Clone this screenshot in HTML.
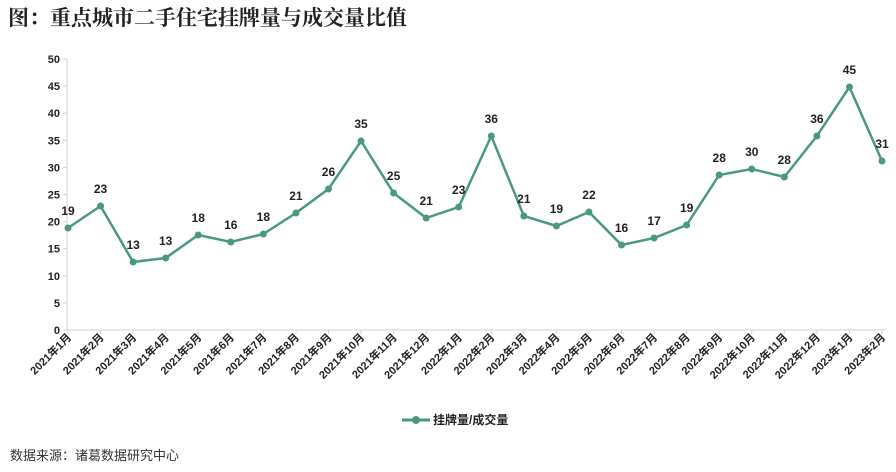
<!DOCTYPE html>
<html><head><meta charset="utf-8"><style>
body{margin:0;background:#fff;width:896px;height:467px;overflow:hidden;font-family:"Liberation Serif","Noto Serif CJK SC",serif}
</style></head><body>
<svg width="896" height="467" xmlns="http://www.w3.org/2000/svg">
<rect width="896" height="467" fill="#fff"/>
<text x="8" y="25" font-size="21" font-weight="bold" fill="#222" font-family="Liberation Serif,Noto Serif CJK SC,serif">图：重点城市二手住宅挂牌量与成交量比值</text>
<g font-family="Liberation Sans,Noto Sans CJK SC,sans-serif" font-size="11" font-weight="bold" fill="#222" text-anchor="end" id="y"></g>
<line x1="67" y1="59" x2="67" y2="330" stroke="#d0d0d0"/>
<line x1="67" y1="330" x2="886" y2="330" stroke="#d0d0d0"/>
<g id="g"></g>
<line x1="402" y1="420" x2="430" y2="420" stroke="#4a9a7a" stroke-width="3"/>
<circle cx="416" cy="420" r="4" fill="#4a9a7a"/>
<text x="433" y="424" font-size="12" font-weight="bold" fill="#222" font-family="Liberation Sans,Noto Sans CJK SC,sans-serif">挂牌量/成交量</text>
<text x="10" y="460" font-size="13" fill="#333" font-family="Liberation Sans,Noto Sans CJK SC,sans-serif">数据来源：诸葛数据研究中心</text>
</svg>
<script>
const NS="http://www.w3.org/2000/svg";
const g=document.getElementById('g'),yg=document.getElementById('y');
function el(t,a,p,txt){const e=document.createElementNS(NS,t);for(const k in a)e.setAttribute(k,a[k]);if(txt!=null)e.textContent=txt;p.appendChild(e);return e;}
for(let v=0;v<=50;v+=5){const y=330-v*5.42;el('text',{x:60,y:y+4},yg,v);el('line',{x1:63,x2:67,y1:y,y2:y,stroke:'#d0d0d0'},g);}
const vals=[19,23,13,13,18,16,18,21,26,35,25,21,23,36,21,19,22,16,17,19,28,30,28,36,45,31];
const py=[228,206,262,258,235,242,234,213,189,141,193,218,207,136,216,226,212,245,238,225,175,169,177,136,87,161];
const x0=68,dx=(882-68)/25;
let pts=[];
vals.forEach((v,i)=>{
 const x=x0+i*dx;pts.push(x+','+py[i]);
 el('line',{x1:x,x2:x,y1:330,y2:334,stroke:'#d0d0d0'},g);
 const yr=2021+Math.floor(i/12),m=i%12+1;
 el('text',{transform:`translate(${x+4},${338}) rotate(-45)`,'text-anchor':'end','font-size':'11','font-weight':'bold',fill:'#222','font-family':'Liberation Sans,Noto Sans CJK SC,sans-serif'},g,`${yr}年${m}月`);
});
el('polyline',{points:pts.join(' '),fill:'none',stroke:'#4a9a7a','stroke-width':2.5},g);
vals.forEach((v,i)=>{const x=x0+i*dx;el('circle',{cx:x,cy:py[i],r:3.5,fill:'#4a9a7a'},g);
 el('text',{x:x,y:py[i]-13,'text-anchor':'middle','font-size':'12','font-weight':'bold',fill:'#222','font-family':'Liberation Sans,sans-serif'},g,v);});
</script>
</body></html>
